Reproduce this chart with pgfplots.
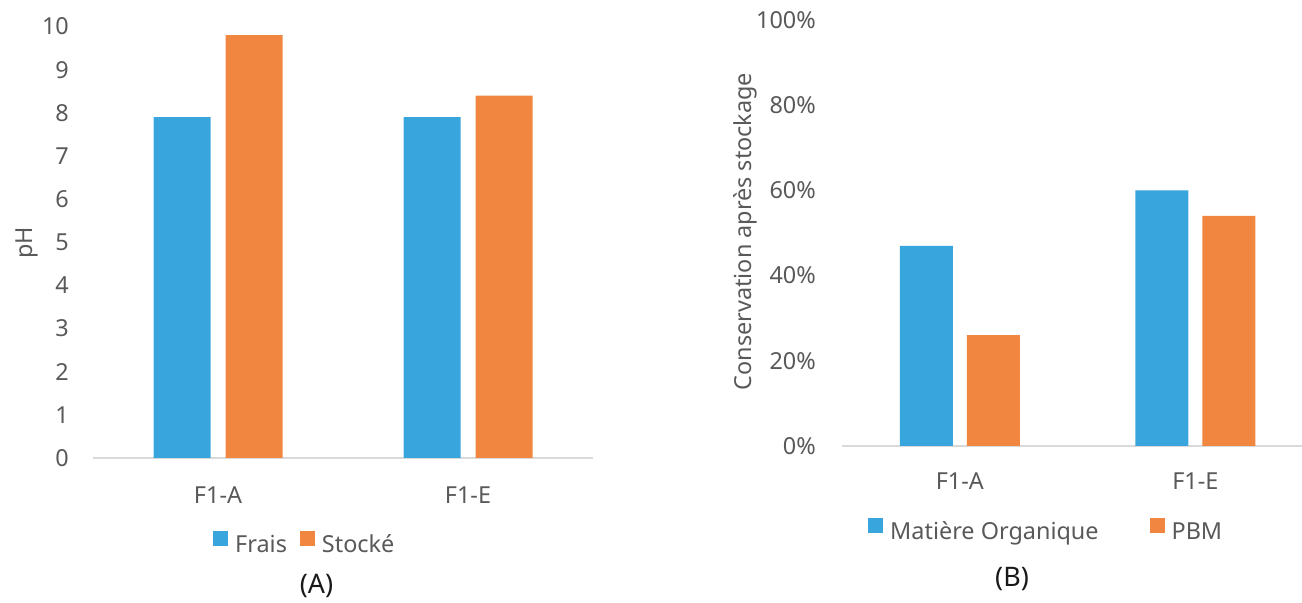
\documentclass[border=0pt]{standalone}
\usepackage{pgfplots}
\pgfplotsset{compat=1.18}
\usepackage{fontspec}
\setmainfont{Noto Sans}
\definecolor{cblue}{HTML}{38A6DC}
\definecolor{corange}{HTML}{F0863F}
\definecolor{ctext}{HTML}{595959}
\definecolor{caxis}{HTML}{D9D9D9}
\newcommand\fs{\fontsize{23.5}{28}\selectfont}
\begin{document}
\begin{tikzpicture}
\useasboundingbox (0bp,0bp) rectangle (1302bp,603bp);
\pgfplotsset{
  common/.style={
    scale only axis,
    anchor=south west,
    xmin=-0.5, ymin=0,
    enlargelimits=false,
    axis x line*=bottom, axis y line*=left,
    x axis line style={draw=caxis, line width=1.3bp, -},
    y axis line style={draw=none},
    major tick length=0pt,
    /pgf/number format/assume math mode=true,
    xtick={0,1}, xticklabels={F1-A,F1-E},
    tick label style={font=\fs, text=ctext},
    xticklabel style={anchor=north, inner sep=0pt},
    yticklabel style={anchor=east, inner sep=0pt},
    legend style={draw=none, fill=none, font=\fs, text=ctext, legend columns=2, anchor=west,
      inner sep=0pt, nodes={inner sep=0pt},
      /tikz/every odd column/.append style={column sep=7bp}},
    legend image code/.code={\fill[##1] (0bp,-1bp) rectangle (15bp,14bp);},
    clip=false,
  },
}
% Panel A
\begin{axis}[common,
  at={(93bp,145bp)}, width=500bp, height=431.5bp,
  xmax=1.5, ymax=10,
  ytick={0,1,...,10},
  yticklabel style={xshift=-24bp},
  xticklabel style={yshift=-29bp},
  legend style={at={(0.24,-0.196)}, /tikz/every even column/.append style={column sep=13bp}},
]
\addplot[ybar, bar width=57bp, bar shift=-36bp, fill=cblue, draw=none] coordinates {(0,7.9) (1,7.9)};
\addlegendentry{Frais}
\addplot[ybar, bar width=57bp, bar shift=36bp, fill=corange, draw=none] coordinates {(0,9.8) (1,8.4)};
\addlegendentry{Stocké}
\end{axis}
% Panel B
\begin{axis}[common,
  at={(842bp,157bp)}, width=460bp, height=426bp,
  xmax=1.453, ymax=100,
  ytick={0,20,...,100},
  yticklabels={0\%,20\%,40\%,60\%,80\%,100\%},
  yticklabel style={xshift=-26bp},
  xticklabel style={yshift=-27bp},
  legend style={at={(0.0565,-0.196)}, /tikz/every even column/.append style={column sep=51bp}},
]
\addplot[ybar, bar width=53bp, bar shift=-33.5bp, fill=cblue, draw=none] coordinates {(0,47) (1,60)};
\addlegendentry{Matière Organique}
\addplot[ybar, bar width=53bp, bar shift=33.5bp, fill=corange, draw=none] coordinates {(0,26) (1,54)};
\addlegendentry{PBM}
\end{axis}
\node[font=\fs, text=ctext, rotate=90] at (27bp,360bp) {pH};
\node[font=\fs, text=ctext, rotate=90] at (745bp,371.5bp) {Conservation après stockage};
\node[font=\fontsize{27}{32}\selectfont, text=black!90] at (316.5bp,17bp) {(A)};
\node[font=\fontsize{27}{32}\selectfont, text=black!90] at (1012bp,23.5bp) {(B)};
\end{tikzpicture}
\end{document}
